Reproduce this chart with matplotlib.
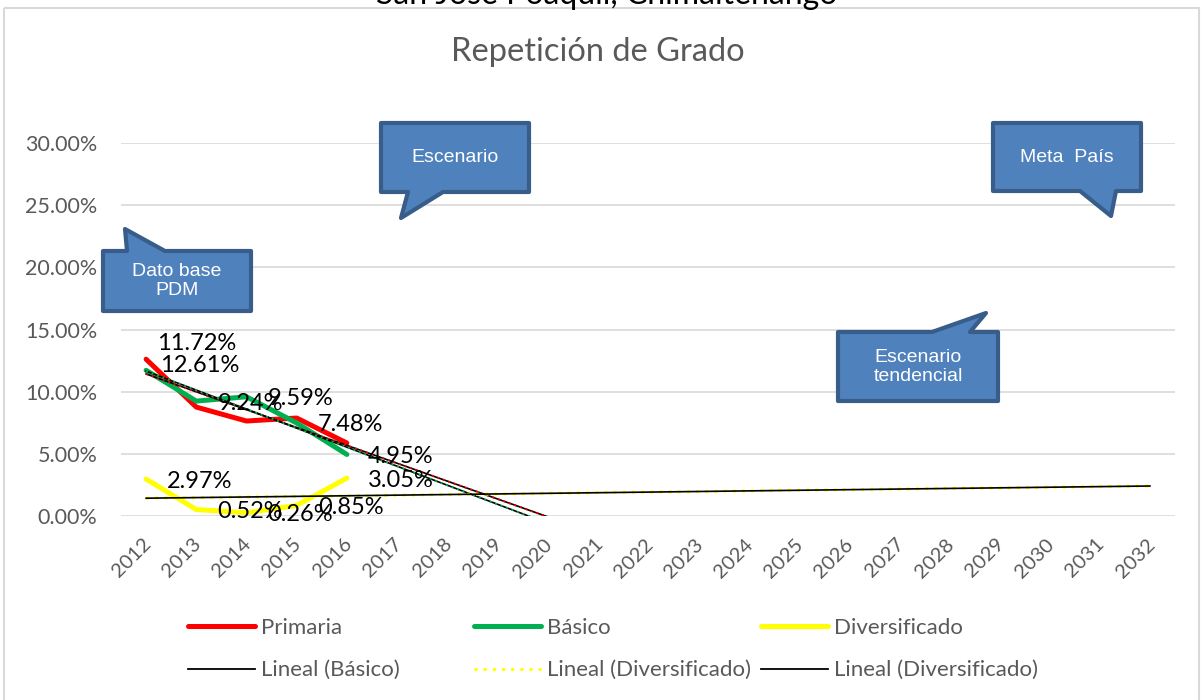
import numpy as np
import matplotlib
matplotlib.use("Agg")
import matplotlib.pyplot as plt
import matplotlib.transforms as mtransforms
from matplotlib.patches import Polygon, Rectangle
from matplotlib.lines import Line2D

# Data (percent)
years = [str(y) for y in range(2012, 2033)]
data_years = 5
primaria = [12.61, 8.76, 7.64, 7.88, 5.87]
basico = [11.72, 9.24, 9.59, 7.48, 4.95]
diversificado = [2.97, 0.52, 0.26, 0.85, 3.05]

yticks = [0, 5, 10, 15, 20, 25, 30]

W, H = 1204, 700
GRAY = '#595959'
FONT = 'Lato'
BOX_FILL = '#4F81BD'
BOX_EDGE = '#385D8A'

fig = plt.figure(figsize=(W / 100, H / 100), dpi=100)

ax_l, ax_r, ax_t, ax_b = 121, 1175, 143, 516
ax = fig.add_axes([ax_l / W, (H - ax_b) / H, (ax_r - ax_l) / W, (ax_b - ax_t) / H])

x_data = np.arange(data_years)
x_all = np.arange(len(years))

ax.plot(x_data, primaria, color='#FF0000', lw=3.6, solid_capstyle='round', zorder=3)
ax.plot(x_data, basico, color='#00B050', lw=3.6, solid_capstyle='round', zorder=3)
ax.plot(x_data, diversificado, color='#FFFF00', lw=3.6, solid_capstyle='round', zorder=3)

# linear trend lines (Excel style, extended to 2032)
def trend(vals):
    m, b = np.polyfit(x_data, vals, 1)
    return m * x_all + b

tp = trend(primaria)
tb = trend(basico)
td = trend(diversificado)
ax.plot(x_all, tp, color='black', lw=1.2, zorder=4)
ax.plot(x_all, tp, color='#FF0000', lw=1.4, ls=(0, (1, 2)), zorder=4)
ax.plot(x_all, tb, color='black', lw=1.2, zorder=4)
ax.plot(x_all, tb, color='#00B050', lw=1.4, ls=(0, (1, 2)), zorder=4)
ax.plot(x_all, td, color='#FFFF00', lw=2.2, ls=(0, (1, 2)), zorder=4)
ax.plot(x_all, td, color='black', lw=1.2, zorder=4)

# data labels
def label(x, v, dx=54, dy=-2):
    ax.annotate('%.2f%%' % v, (x, v), xytext=(dx, dy), textcoords='offset pixels',
                ha='center', va='center', fontsize=17, family=FONT, color='black', zorder=6)

label(0, basico[0], dx=51, dy=27)
for i in range(1, data_years):
    label(i, basico[i])
label(0, primaria[0], dx=54, dy=-6)
for i in range(data_years):
    label(i, diversificado[i])

ax.set_xlim(-0.5, len(years) - 0.5)
ax.set_ylim(0, 30)
ax.set_yticks(yticks)
ax.set_yticklabels(['%.2f%%' % t for t in yticks], fontsize=15.5, family=FONT, color=GRAY)
ax.set_xticks(x_all)
ax.set_xticklabels(years, rotation=45, ha='right', va='top', rotation_mode='anchor',
                   fontsize=14.5, family=FONT, color=GRAY)
ax.tick_params(axis='both', length=0)
ax.tick_params(axis='y', pad=17)
ax.tick_params(axis='x', pad=14)
shift = mtransforms.ScaledTranslation(-4 / 100, 0, fig.dpi_scale_trans)
for t in ax.get_xticklabels():
    t.set_transform(t.get_transform() + shift)
ax.grid(axis='y', color='#D9D9D9', lw=1.2)
ax.set_axisbelow(True)
for s in ax.spines.values():
    s.set_visible(False)

# legend, three columns
h_prim = Line2D([], [], color='#FF0000', lw=3.6, solid_capstyle='round')
h_bas = Line2D([], [], color='#00B050', lw=3.6, solid_capstyle='round')
h_div = Line2D([], [], color='#FFFF00', lw=3.6, solid_capstyle='round')
h_lb = Line2D([], [], color='black', lw=1.3)
h_ld = Line2D([], [], color='#FFFF00', lw=2.2, ls=(0, (1, 2)))
h_ld2 = Line2D([], [], color='black', lw=1.3)
cols = [([h_prim, h_lb], ['Primaria', 'Lineal (Básico)'], 177),
        ([h_bas, h_ld], ['Básico', 'Lineal (Diversificado)'], 463),
        ([h_div, h_ld2], ['Diversificado', 'Lineal (Diversificado)'], 750)]
for hs, ls, x in cols:
    lg = fig.legend(hs, ls, loc='upper left', bbox_to_anchor=(x / W, 1 - 607 / H),
                    frameon=False, handlelength=3.0, handletextpad=0.3, labelspacing=1.0,
                    borderpad=0, prop={'family': FONT, 'size': 16})
    for t in lg.get_texts():
        t.set_color(GRAY)

# overlay in pixel coordinates for frame, titles and callouts
ov = fig.add_axes([0, 0, 1, 1], zorder=10)
ov.set_xlim(0, W)
ov.set_ylim(H, 0)
ov.axis('off')
ov.patch.set_alpha(0)

ov.add_patch(Rectangle((4, 8), 1195, 700, fill=False, edgecolor='#D9D9D9', lw=1.5))
ov.text(607, 4, 'San José Poaquil, Chimaltenango', ha='center', va='baseline',
        fontsize=23, family=FONT, color='black')
ov.text(598, 52, 'Repetición de Grado', ha='center', va='center',
        fontsize=23.5, family=FONT, color=GRAY)


def callout(pts, tx, ty, text):
    ov.add_patch(Polygon(pts, closed=True, facecolor=BOX_FILL, edgecolor=BOX_EDGE,
                         lw=3, joinstyle='round'))
    ov.text(tx, ty, text, ha='center', va='center', color='white', fontsize=14,
            family='Liberation Sans', linespacing=1.15)


callout([(103, 251), (127, 251), (125, 229), (165, 251), (251, 251), (251, 311), (103, 311)],
        177, 281, 'Dato base\nPDM')
callout([(381, 123), (529, 123), (529, 192), (443, 192), (401, 218), (408, 192), (381, 192)],
        455, 158, 'Escenario')
callout([(993, 123), (1141, 123), (1141, 191), (1116, 191), (1111, 216), (1080, 191), (993, 191)],
        1067, 157, 'Meta  País')
callout([(838, 332), (932, 332), (986, 313), (970, 332), (998, 332), (998, 401), (838, 401)],
        918, 367, 'Escenario\ntendencial')

fig.savefig('out.png', dpi=100)
